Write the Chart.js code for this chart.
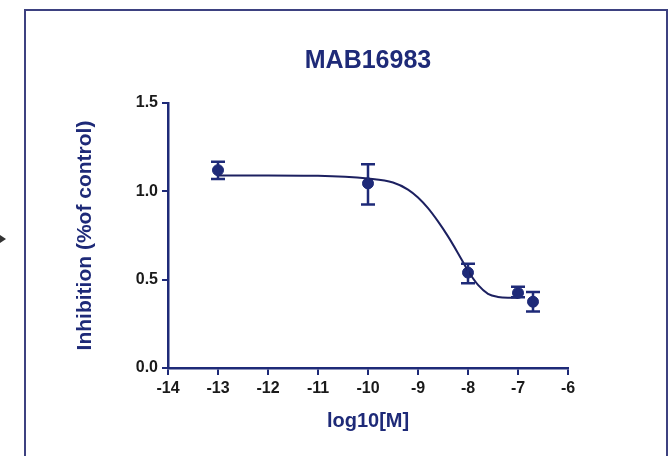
<!DOCTYPE html>
<html>
<head>
<meta charset="utf-8">
<script src="https://cdn.jsdelivr.net/npm/chart.js@4.4.1/dist/chart.umd.min.js"></script>
<style>
  html, body { margin: 0; padding: 0; background: #fff; }
  #wrap { position: relative; width: 671px; height: 456px; overflow: hidden; }
  #frame { position: absolute; left: 24px; top: 9px; width: 640px; height: 460px;
           border: 2px solid #3d4180; border-bottom: none; }
  #arrow { position: absolute; left: 0; top: 235px; width: 0; height: 0;
           border-top: 4px solid transparent; border-bottom: 4px solid transparent;
           border-left: 6px solid #333; }
  canvas { position: absolute; left: 0; top: 0; }
</style>
</head>
<body>
<div id="wrap">
  <div id="frame"></div>
  <div id="arrow"></div>
  <canvas id="chart" width="671" height="456"></canvas>
</div>
<script>
// measured points (log10 molar concentration vs inhibition)
const doseLog = [-13, -10, -8, -7, -6.7];
const meanResp = [1.12, 1.045, 0.54, 0.425, 0.375];
const errLow = [1.07, 0.926, 0.48, 0.40, 0.32];
const errHigh = [1.168, 1.154, 0.59, 0.46, 0.43];

// fitted curve
const fitX = [-13, -12, -11, -10, -9.5, -9.2, -9.0, -8.8, -8.6, -8.4, -8.2, -8.0, -7.8, -7.6, -7.4, -7.2, -7.0];
const fitY = [1.09, 1.09, 1.088, 1.072, 1.05, 1.01, 0.965, 0.905, 0.83, 0.745, 0.65, 0.55, 0.47, 0.42, 0.402, 0.398, 0.398];

const navy = '#1e2a78';
const fontFam = "'Liberation Sans', Arial, sans-serif";

const errorBars = {
    id: 'errorBars',
    afterDatasetsDraw(chart) {
        const ctx = chart.ctx;
        const xs = chart.scales.x, ys = chart.scales.y;
        ctx.save();
        ctx.strokeStyle = navy;
        ctx.lineWidth = 2.5;
        for (let i = 0; i < doseLog.length; i++) {
            const px = xs.getPixelForValue(doseLog[i]);
            const top = ys.getPixelForValue(errHigh[i]);
            const bot = ys.getPixelForValue(errLow[i]);
            ctx.beginPath();
            ctx.moveTo(px, top); ctx.lineTo(px, bot);
            ctx.moveTo(px - 7, top); ctx.lineTo(px + 7, top);
            ctx.moveTo(px - 7, bot); ctx.lineTo(px + 7, bot);
            ctx.stroke();
        }
        ctx.restore();
    }
};

new Chart(document.getElementById('chart'), {
    type: 'scatter',
    data: {
        datasets: [{
            type: 'line',
            data: fitX.map((x, i) => ({x: x, y: fitY[i]})),
            borderColor: '#1c2060',
            borderWidth: 2,
            pointRadius: 0,
            cubicInterpolationMode: 'monotone',
            fill: false
        }, {
            data: doseLog.map((x, i) => ({x: x, y: meanResp[i]})),
            backgroundColor: navy,
            borderColor: navy,
            pointRadius: 5.5,
            pointStyle: 'circle'
        }]
    },
    options: {
        responsive: false,
        animation: false,
        layout: { padding: { left: 70, right: 103, top: 46, bottom: 23 } },
        plugins: {
            legend: { display: false },
            tooltip: { enabled: false },
            title: {
                display: true,
                text: 'MAB16983',
                fullSize: false,
                color: navy,
                font: { family: fontFam, size: 25, weight: 'bold' },
                padding: { top: 0, bottom: 27 }
            }
        },
        scales: {
            x: {
                type: 'linear',
                min: -14, max: -6,
                ticks: { stepSize: 1, color: '#1a1a1a', padding: 4,
                         font: { family: fontFam, size: 16, weight: 'bold' } },
                grid: { drawOnChartArea: false, drawTicks: true, tickLength: 7, color: navy, lineWidth: 2 },
                border: { display: true, color: navy, width: 2.5 },
                title: { display: true, text: 'log10[M]', color: navy, padding: 0,
                         font: { family: fontFam, size: 20, weight: 'bold' } },
                afterFit(axis) { axis.height = 65; }
            },
            y: {
                min: 0, max: 1.5,
                ticks: { stepSize: 0.5, color: '#1a1a1a', padding: 4,
                         callback: v => v.toFixed(1),
                         font: { family: fontFam, size: 16, weight: 'bold' } },
                grid: { drawOnChartArea: false, drawTicks: true, tickLength: 6, color: navy, lineWidth: 2 },
                border: { display: true, color: navy, width: 2.5 },
                title: { display: true, text: 'Inhibition (%of control)', color: navy, padding: { top: 3, bottom: 0 },
                         font: { family: fontFam, size: 21, weight: 'bold' } },
                afterFit(axis) { axis.width = 98; }
            }
        }
    },
    plugins: [errorBars]
});
</script>
</body>
</html>
